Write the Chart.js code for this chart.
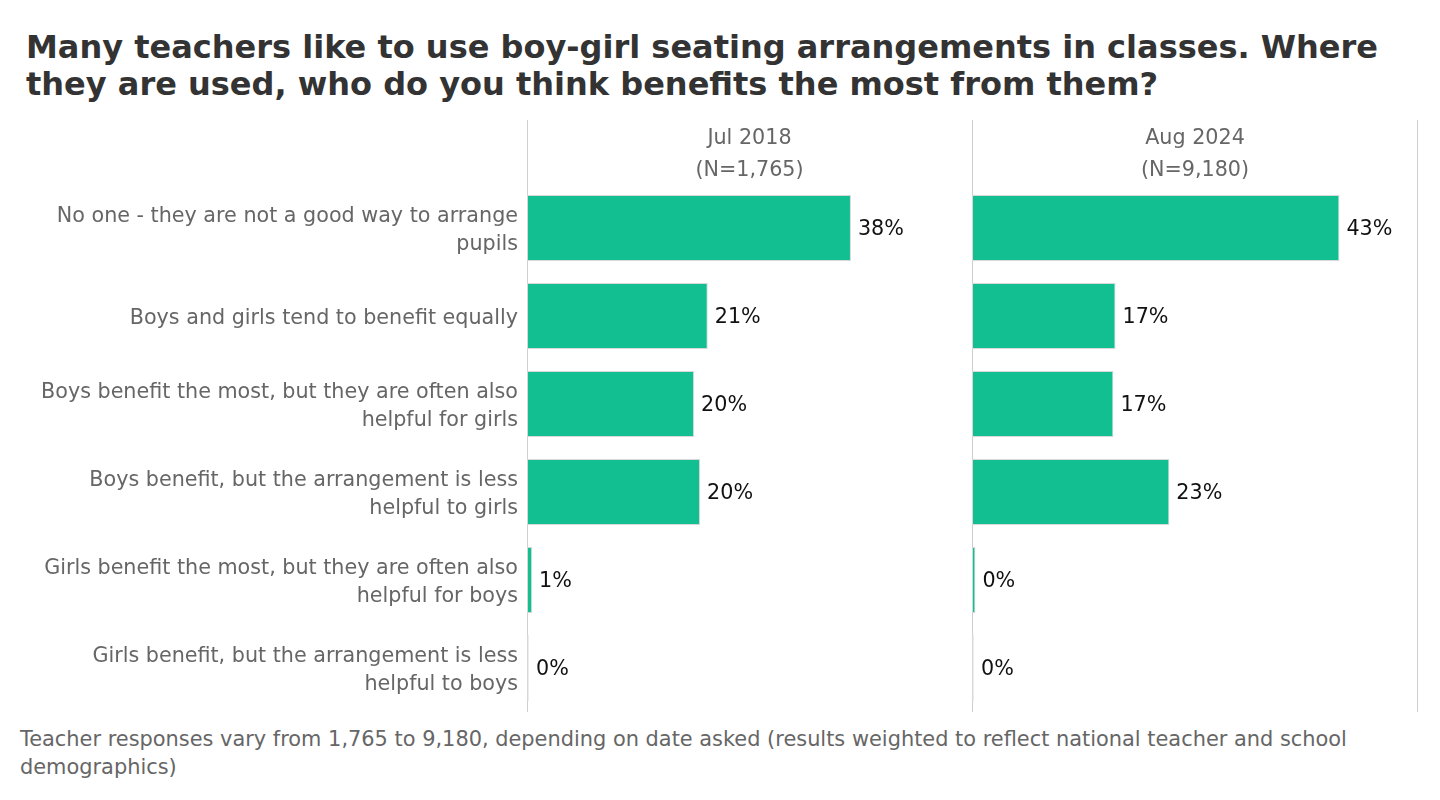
<!DOCTYPE html>
<html>
<head>
<meta charset="utf-8">
<script src="https://cdn.jsdelivr.net/npm/chart.js@4"></script>
<style>
  html, body { margin: 0; padding: 0; background: #fff; }
  body { width: 1440px; height: 800px; position: relative; overflow: hidden; font-family: "DejaVu Sans", sans-serif; }
  #title { position: absolute; left: 26px; top: 29px; width: 1410px; font-size: 32px; font-weight: bold; color: #333; line-height: 37px; white-space: nowrap; }
  #footer { position: absolute; left: 20px; top: 725px; width: 1410px; font-size: 20.9px; color: #666; line-height: 28px; white-space: nowrap; }
  .wrap { position: absolute; top: 120px; height: 592px; }
  #w1 { left: 0; width: 972px; }
  #w2 { left: 972px; width: 468px; }
</style>
</head>
<body>
<div id="title">Many teachers like to use boy-girl seating arrangements in classes. Where<br>they are used, who do you think benefits the most from them?</div>
<div class="wrap" id="w1"><canvas id="c1"></canvas></div>
<div class="wrap" id="w2"><canvas id="c2"></canvas></div>
<div id="footer">Teacher responses vary from 1,765 to 9,180, depending on date asked (results weighted to reflect national teacher and school<br>demographics)</div>
<script>
const categories = [
  ["No one - they are not a good way to arrange", "pupils"],
  ["Boys and girls tend to benefit equally"],
  ["Boys benefit the most, but they are often also", "helpful for girls"],
  ["Boys benefit, but the arrangement is less", "helpful to girls"],
  ["Girls benefit the most, but they are often also", "helpful for boys"],
  ["Girls benefit, but the arrangement is less", "helpful to boys"]
];
const panelTitles = [["Jul 2018", "(N=1,765)"], ["Aug 2024", "(N=9,180)"]];
const valuesJul2018 = [38.0, 21.2, 19.6, 20.3, 0.6, 0.2];
const valuesAug2024 = [43.0, 16.8, 16.55, 23.1, 0.4, 0.2];
const xMax = 52.2;

const FONT = "DejaVu Sans";
const FS = 20.7;
const GREEN = "#12bf91";
const LINE = "#cfcfcf";

function panelPlugin(titleLines, drawRightLine) {
  return {
    id: 'panel',
    afterDatasetsDraw(chart) {
      const ctx = chart.ctx;
      const a = chart.chartArea;
      ctx.save();
      ctx.font = FS + "px '" + FONT + "'";
      ctx.fillStyle = "#111";
      ctx.textAlign = "left";
      ctx.textBaseline = "middle";
      const meta = chart.getDatasetMeta(0);
      meta.data.forEach((bar, i) => {
        const v = chart.data.datasets[0].data[i];
        ctx.fillText(Math.round(v) + "%", Math.max(bar.x, a.left + 2) + 7, bar.y + 2);
      });
      ctx.fillStyle = "#666";
      ctx.textAlign = "center";
      const cx = (a.left + a.right) / 2;
      ctx.fillText(titleLines[0], cx, 19);
      ctx.fillText(titleLines[1], cx, 51);
      ctx.restore();
    },
    beforeDatasetsDraw(chart) {
      const ctx = chart.ctx;
      const a = chart.chartArea;
      ctx.save();
      ctx.strokeStyle = LINE;
      ctx.lineWidth = 1;
      ctx.beginPath();
      ctx.moveTo(Math.round(a.left) + 0.5, 0);
      ctx.lineTo(Math.round(a.left) + 0.5, a.bottom);
      if (drawRightLine) {
        ctx.moveTo(Math.round(a.right) - 0.5, 0);
        ctx.lineTo(Math.round(a.right) - 0.5, a.bottom);
      }
      ctx.stroke();
      ctx.restore();
    }
  };
}

function makeChart(id, values, titleLines, showY, rightPad, drawRightLine) {
  return new Chart(document.getElementById(id), {
    type: 'bar',
    data: {
      labels: categories,
      datasets: [{
        data: values,
        backgroundColor: GREEN,
        borderColor: "#d8d8d8",
        borderWidth: 1,
        borderSkipped: false,
        categoryPercentage: 0.75,
        barPercentage: 1.0
      }]
    },
    options: {
      indexAxis: 'y',
      responsive: true,
      maintainAspectRatio: false,
      animation: false,
      layout: { padding: { top: 64, right: rightPad, bottom: 0, left: 0 } },
      plugins: { legend: { display: false }, tooltip: { enabled: false } },
      scales: {
        x: { min: 0, max: xMax, display: false },
        y: {
          display: showY,
          grid: { display: false, drawTicks: false },
          border: { display: false },
          ticks: {
            padding: 9,
            labelOffset: 2.5,
            color: "#666",
            font: { family: FONT, size: FS, lineHeight: 1.35 }
          },
          afterFit(scale) {
            if (showY) scale.width = 527;
            scale.paddingTop = 0;
            scale.paddingBottom = 0;
          }
        }
      }
    },
    plugins: [panelPlugin(titleLines, drawRightLine)]
  });
}

makeChart('c1', valuesJul2018, panelTitles[0], true, 0, false);
makeChart('c2', valuesAug2024, panelTitles[1], false, 22, true);
</script>
</body>
</html>
